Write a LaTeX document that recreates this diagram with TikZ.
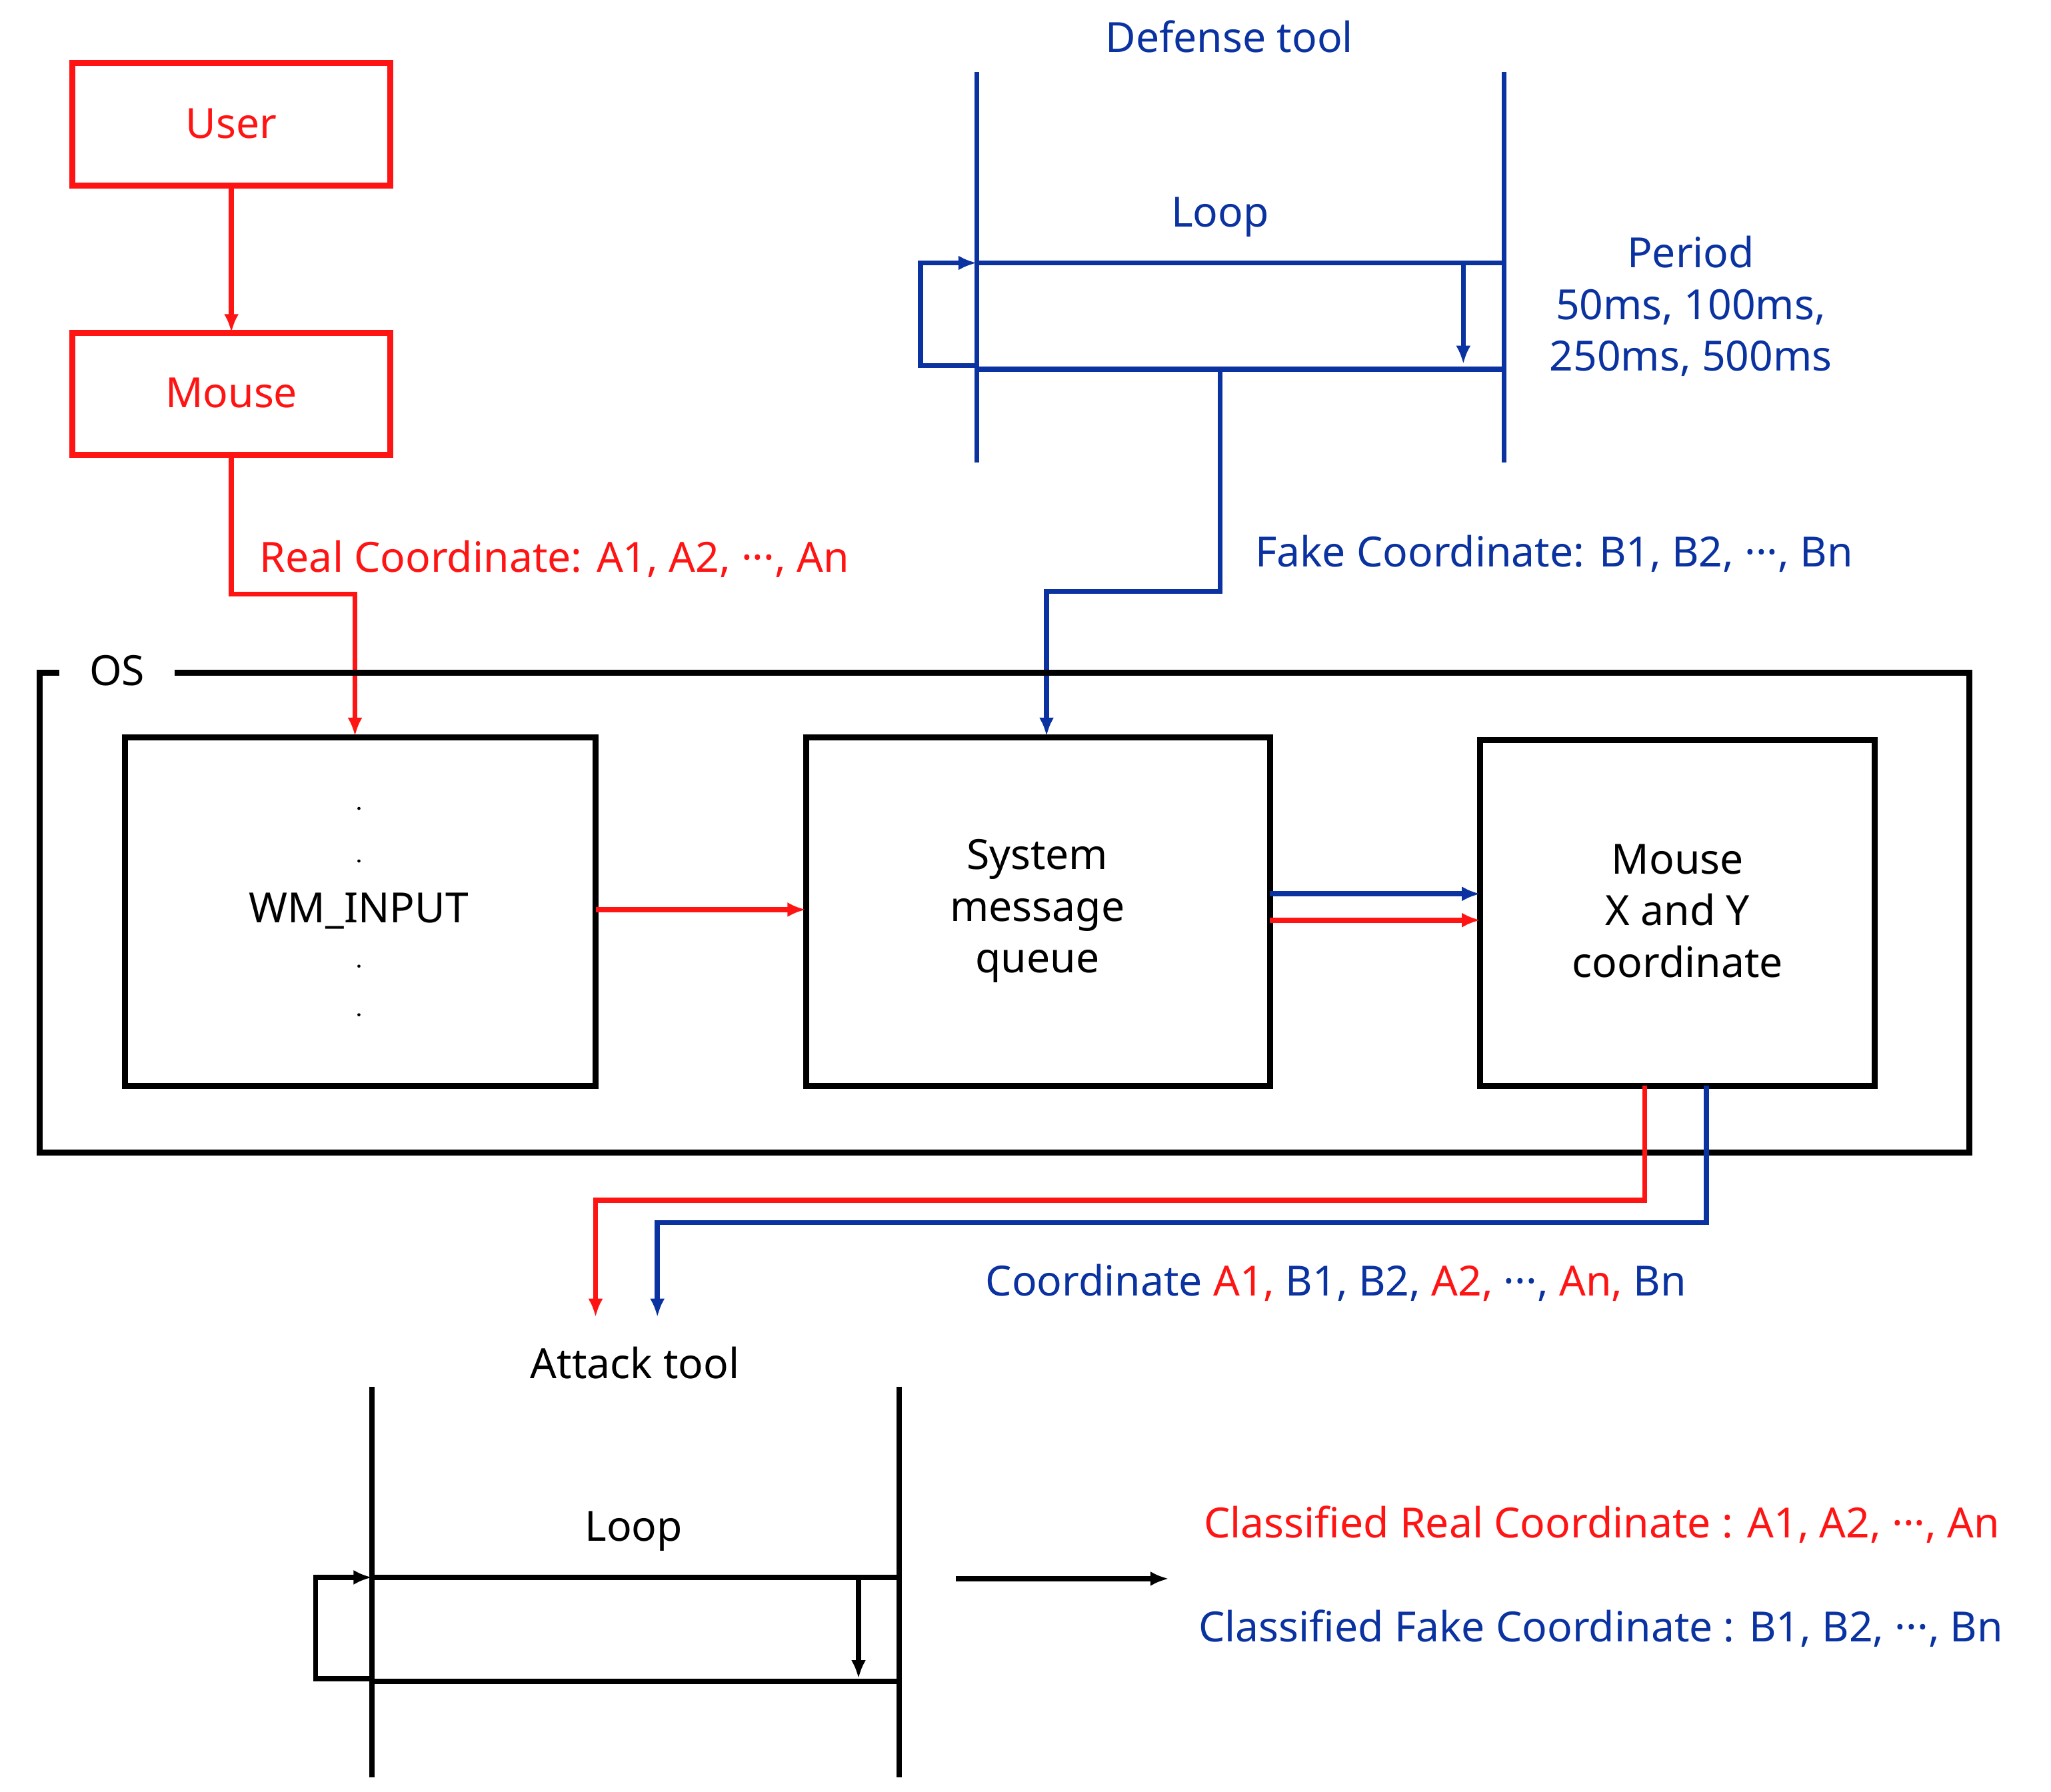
\documentclass[tikz,border=0pt]{standalone}
\usepackage{fontspec}
\setmainfont{Noto Sans}
\usetikzlibrary{arrows.meta}
\definecolor{rd}{RGB}{255,20,20}
\definecolor{bl}{RGB}{10,50,160}
\begin{document}
\begin{tikzpicture}[x=0.01cm,y=-0.01cm,
  every node/.style={font=\fontsize{9}{11.2}\selectfont, inner sep=0pt},
  ln/.style={line width=1.1pt},
  arr/.style={ln,-{Latex[length=4pt,width=3.2pt]}},
  lbl/.style={anchor=west}]
\useasboundingbox (0,0) rectangle (1560,1363);
% User / Mouse
\draw[rd,line width=1.3pt] (55,48) rectangle (297,141);
\node[rd] (user) at (176,94) {User};
\draw[rd,line width=1.3pt] (55,253) rectangle (297,346);
\node[rd] (mouse) at (176,299) {Mouse};
\coordinate (ub) at (176,141); \coordinate (mt) at (176,253); \coordinate (mb) at (176,346);
\draw[arr,rd] (ub) -- (mt);
\coordinate (wmt) at (270,560);
\draw[arr,rd] (mb) |- (270,452) -- (wmt);
\node[rd,lbl] at (197,425) {Real Coordinate: A1, A2, ···, An};
% Defense tool
\node[bl] at (935,28) {Defense tool};
\draw[bl,ln] (743,55) -- (743,352) (1144,55) -- (1144,352);
\draw[bl,ln] (743,200) -- (1144,200) (743,281) -- (1144,281);
\node[bl] at (928,165) {Loop};
\draw[arr,bl] (743,278) -- (700,278) -- (700,200) -- (743,200);
\draw[arr,bl] (1113,200) -- (1113,277);
\node[bl,align=center] at (1286,233) {Period\\50ms, 100ms,\\250ms, 500ms};
\coordinate (smqt) at (796,560);
\draw[arr,bl] (928,281) -- (928,450) -- (796,450) -- (smqt);
\node[bl,lbl] at (954,421) {Fake Coordinate: B1, B2, ···, Bn};
% OS
\draw[line width=1.3pt] (45,512) -- (30,512) -- (30,877) -- (1498,877) -- (1498,512) -- (133,512);
\node at (89,510) {OS};
\draw[line width=1.3pt] (95,561) rectangle (453,826);
\node (wm) at (273,693) {WM\_INPUT};
\foreach \y in {615,655,735,772} \fill (273,\y) circle (1.2);
\draw[line width=1.3pt] (613,561) rectangle (966,826);
\node[align=center] (smq) at (789,693) {System\\message\\queue};
\draw[line width=1.3pt] (1126,563) rectangle (1426,826);
\node[align=center] (mxy) at (1276,693) {Mouse\\X and Y\\coordinate};
\draw[arr,rd] (453,692) -- (613,692);
\draw[arr,bl] (966,680) -- (1126,680);
\draw[arr,rd] (966,700) -- (1126,700);
\draw[arr,rd] (1251,826) -- (1251,913) -- (453,913) -- (453,1002);
\draw[arr,bl] (1298,826) -- (1298,930) -- (500,930) -- (500,1002);
\node[lbl] at (749,976) {\textcolor{bl}{Coordinate} \textcolor{rd}{A1,} \textcolor{bl}{B1, B2,} \textcolor{rd}{A2,} \textcolor{bl}{···,} \textcolor{rd}{An,} \textcolor{bl}{Bn}};
% Attack tool
\node at (483,1037) {Attack tool};
\draw[ln] (283,1055) -- (283,1352) (684,1055) -- (684,1352);
\draw[ln] (283,1200) -- (684,1200) (283,1279) -- (684,1279);
\node at (482,1165) {Loop};
\draw[arr] (283,1277) -- (240,1277) -- (240,1200) -- (283,1200);
\draw[arr] (653,1200) -- (653,1277);
\draw[arr] (727,1201) -- (889,1201);
\node[rd,lbl] at (915,1160) {Classified Real Coordinate : A1, A2, ···, An};
\node[bl,lbl] at (911,1239) {Classified Fake Coordinate : B1, B2, ···, Bn};
\end{tikzpicture}
\end{document}
